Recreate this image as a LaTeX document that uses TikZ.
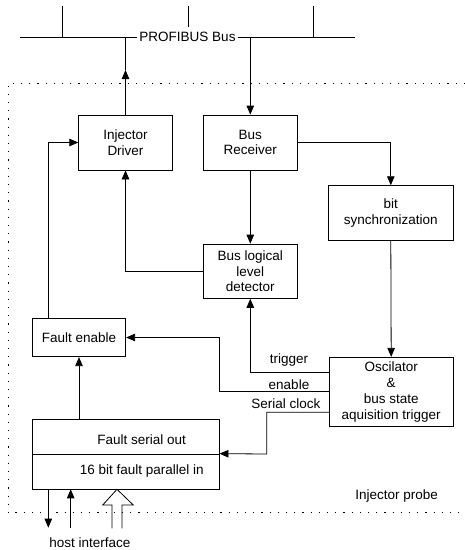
\documentclass[tikz,border=0pt]{standalone}
\usepackage{fontspec}
\setmainfont{Liberation Sans}
\usetikzlibrary{arrows.meta}
\begin{document}
\begin{tikzpicture}[x=1pt,y=-1pt,
  every node/.style={font=\fontsize{13.5}{15.7}\selectfont},
  blk/.style={draw, line width=0.8pt, inner sep=0pt, align=center},
  lbl/.style={inner sep=0pt, anchor=center},
  wire/.style={line width=0.8pt},
  arr/.style={wire, -{Triangle[length=9pt,width=7.5pt]}},
  bnd/.style={line width=1pt, dash pattern=on 1.2pt off 7pt}]
\useasboundingbox (0,0) rectangle (465,550);
% boundary
\draw[bnd] (465,83.3) -- (8,83.3) -- (8,512.7) -- (465,512.7);
% bus
\node[inner sep=2pt] (busl) at (187.5,37.3) {PROFIBUS Bus};
\coordinate (busL) at (20,37.3);
\coordinate (busR) at (355,37.3);
\draw[wire] (busL) -- (busl.west);
\draw[wire] (busl.east) -- (busR);
\coordinate (s1t) at (62,6); \coordinate (s1b) at (62,37.3);
\coordinate (s2t) at (188,6); \coordinate (s2b) at (188,27);
\coordinate (s3t) at (313,6); \coordinate (s3b) at (313,37.3);
\draw[wire] (s1t) -- (s1b);
\draw[wire] (s2t) -- (s2b);
\draw[wire] (s3t) -- (s3b);
% blocks
\node[blk, minimum width=93.6pt, minimum height=55pt] (drv) at (125.5,142.5) {Injector\\Driver};
\node[blk, minimum width=94pt, minimum height=55pt] (rcv) at (250.3,142.5) {Bus\\Receiver};
\node[blk, minimum width=125pt, minimum height=54.3pt] (sync) at (390.8,212.8) {bit\\synchronization};
\node[blk, minimum width=94pt, minimum height=54.3pt] (lld) at (250.3,271.2) {Bus logical\\level\\detector};
\node[blk, minimum width=93.4pt, minimum height=38.4pt] (fen) at (79,337.5) {Fault enable};
\node[blk, minimum width=124.3pt, minimum height=69.4pt] (osc) at (391.2,392) {Oscilator\\\&\\bus state\\aquisition trigger};
\node[blk, minimum width=186.7pt, minimum height=34.7pt] (fso) at (125.7,436.7) {};
\node[blk, minimum width=186.7pt, minimum height=35.3pt] (fpi) at (125.7,471.7) {};
\node[lbl] (tfso) at (141.7,440) {Fault serial out};
\node[lbl] (tfpi) at (141.7,471) {16 bit fault parallel in};
% bus connections
\coordinate (tipA) at (125.5,70);
\coordinate (busA) at (125.5,37.3);
\draw[arr] (drv.north) -- (tipA);
\draw[wire] (tipA) -- (busA);
\coordinate (busB) at (250.3,37.3);
\draw[arr] (busB) -- (rcv.north);
% internal connectors
\draw[arr] (rcv.east) -| (sync.north);
\draw[arr] (rcv.south) -- (lld.north);
\draw[arr] (lld.west) -| (drv.south);
\draw[arr] (sync.south) -- (osc.north);
\coordinate (oT) at (329,372.3);
\coordinate (oE) at (329,391.7);
\coordinate (oS) at (329,412.3);
\coordinate (eA) at (219,391.7);
\coordinate (eB) at (219,337.5);
\coordinate (sA) at (266.7,412.3);
\coordinate (sB) at (266.7,454);
\draw[arr] (oT) -| (lld.south);
\draw[arr] (oE) -- (eA) -- (eB) -- (fen.east);
\draw[arr] (oS) -- (sA) -- (sB) -- (fpi.north east);
\coordinate (fenT) at (48.3,318.3);
\coordinate (fenC) at (48.3,142.5);
\draw[arr] (fenT) -- (fenC) -- (drv.west);
\draw[arr] (fen.south |- fso.north) -- (fen.south);
\node[lbl] (ltrig) at (289,360) {trigger};
\node[lbl] (lena) at (289,384.3) {enable};
\node[lbl] (lser) at (286,403.3) {Serial clock};
% host interface
\coordinate (d1a) at (48.3,489.3); \coordinate (d1b) at (48.3,527.7);
\coordinate (u1a) at (70.7,528.3); \coordinate (u1b) at (70.7,489.3);
\draw[arr] (d1a) -- (d1b);
\draw[arr] (u1a) -- (u1b);
\draw[wire, line join=miter] (111.9,528.3) -- (111.9,505) -- (102.7,505) -- (117,489.3) -- (133.3,505) -- (121.9,505) -- (121.9,528.3);
\node[lbl] (host) at (90,542.7) {host interface};
\node[lbl] (probe) at (396.7,495.7) {Injector probe};
\end{tikzpicture}
\end{document}
